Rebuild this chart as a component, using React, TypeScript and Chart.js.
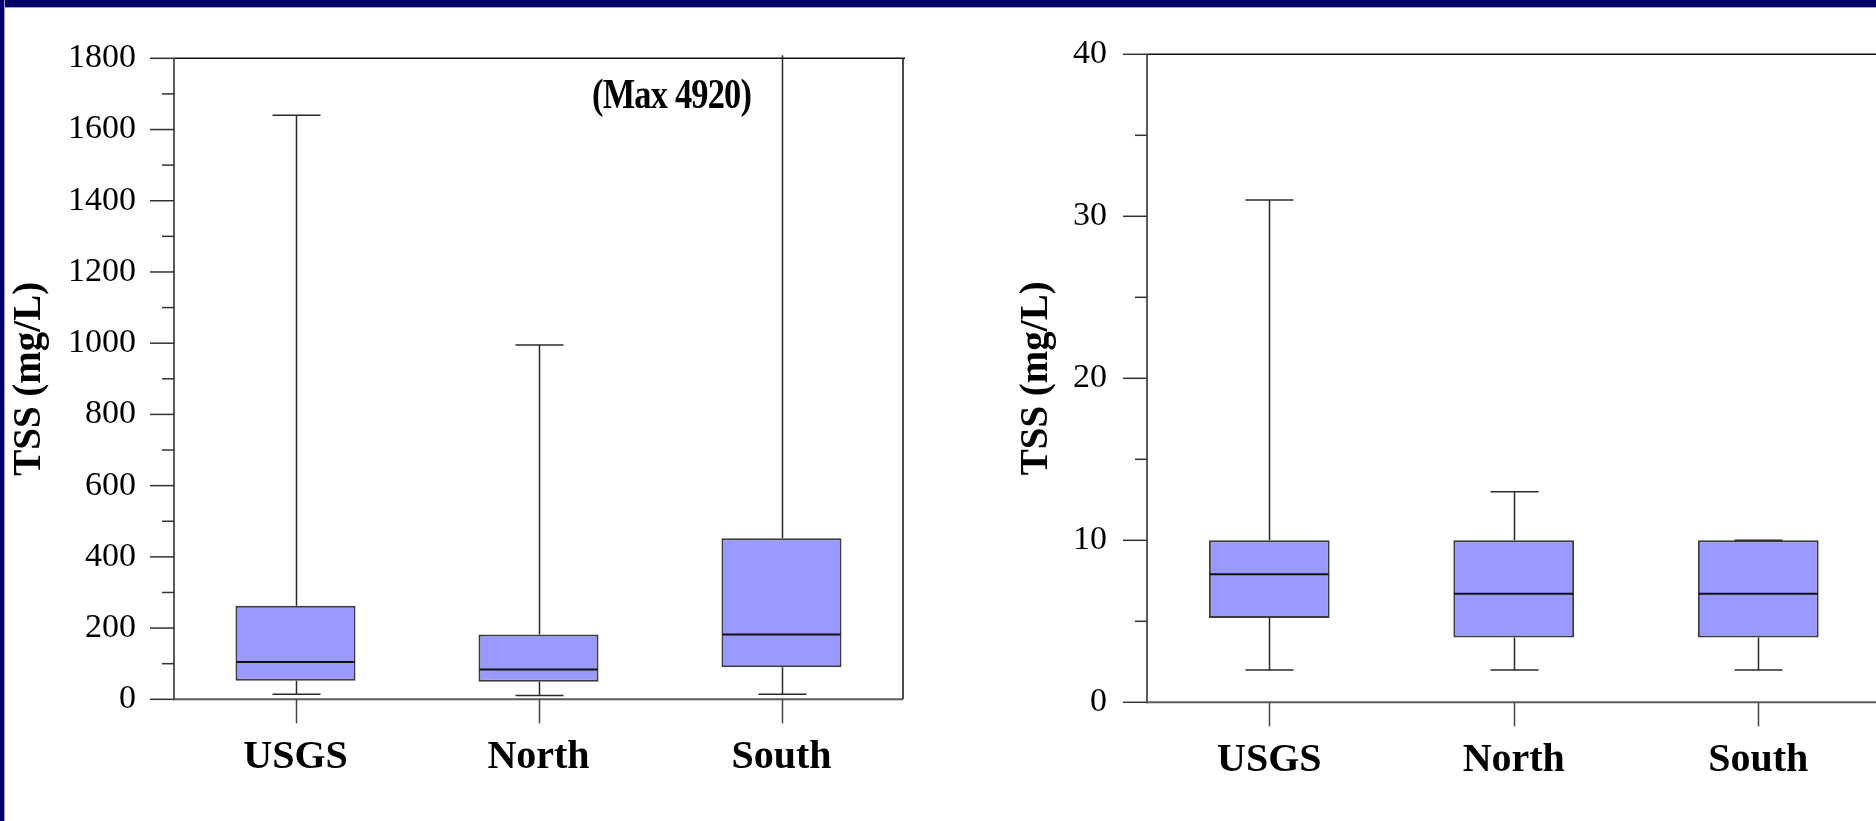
import React, { useEffect, useRef } from 'react';
import { Chart, registerables } from 'chart.js';

Chart.register(...registerables);

const categories = ['USGS', 'North', 'South'];

// Total suspended solids, full range (mg/L)
const fullMin = [14, 11, 14];
const fullQ1 = [52, 49, 90];
const fullMedian = [105, 84, 182];
const fullQ3 = [263, 182, 452];
const fullMax = [1640, 995, 4920];

// Total suspended solids, low range detail (mg/L)
const lowMin = [2, 2, 2];
const lowQ1 = [5.2, 4, 4];
const lowMedian = [7.9, 6.7, 6.7];
const lowQ3 = [10, 10, 10];
const lowMax = [31, 13, 10];

const fullTicks = { min: 0, max: 1800, minorStep: 100, majorStep: 200 };
const lowTicks = { min: 0, max: 40, minorStep: 5, majorStep: 10 };

const SERIF = "'Liberation Serif', 'Times New Roman', serif";

function line(ctx: CanvasRenderingContext2D, x1: number, y1: number, x2: number, y2: number) {
  ctx.beginPath();
  ctx.moveTo(x1, y1);
  ctx.lineTo(x2, y2);
  ctx.stroke();
}

// Whiskers, caps and median lines drawn on top of the floating q1..q3 bars.
const boxWhiskers = {
  id: 'boxWhiskers',
  afterDatasetsDraw(chart: any, _args: any, opts: any) {
    const { ctx, chartArea, scales } = chart;
    const { x, y } = scales;
    const meta = chart.getDatasetMeta(0);
    const s = opts.stats;
    ctx.save();
    ctx.beginPath();
    ctx.rect(chartArea.left, chartArea.top - 3, chartArea.right - chartArea.left, chartArea.bottom - chartArea.top + 3);
    ctx.clip();
    ctx.strokeStyle = '#2a2a2a';
    ctx.lineWidth = 1.5;
    const half = opts.capWidth / 2;
    s.min.forEach((_: number, i: number) => {
      const cx = Math.round(x.getPixelForValue(i)) + 0.5;
      const pMin = y.getPixelForValue(s.min[i]);
      const pQ1 = y.getPixelForValue(s.q1[i]);
      const pQ3 = y.getPixelForValue(s.q3[i]);
      const pMax = y.getPixelForValue(s.max[i]);
      line(ctx, cx, pQ3, cx, pMax);
      line(ctx, cx, pQ1, cx, pMin);
      line(ctx, cx - half, pMax, cx + half, pMax);
      line(ctx, cx - half, pMin, cx + half, pMin);
      const bar = meta.data[i];
      const bw = bar.width / 2;
      const pMed = y.getPixelForValue(s.median[i]);
      ctx.save();
      ctx.strokeStyle = '#111';
      ctx.lineWidth = 2;
      line(ctx, bar.x - bw + 1, pMed, bar.x + bw - 1, pMed);
      ctx.restore();
    });
    ctx.restore();
  },
};

// Axis lines, outside tick marks, plot frame and optional note.
const axisFrame = {
  id: 'axisFrame',
  afterDraw(chart: any, _args: any, opts: any) {
    const { ctx, chartArea, scales } = chart;
    const { left, top, right, bottom } = chartArea;
    const { x, y } = scales;
    ctx.save();
    ctx.strokeStyle = '#111';
    ctx.lineWidth = 1.5;
    line(ctx, left, top, right + 2, top);
    if (opts.rightBorder) line(ctx, right, top, right, bottom);

    ctx.strokeStyle = '#5a5a5a';
    ctx.lineWidth = 2;
    line(ctx, left, top, left, bottom + 1);
    line(ctx, left - 1, bottom, right, bottom);

    ctx.strokeStyle = '#333';
    ctx.lineWidth = 1.5;
    const steps = Math.round((opts.max - opts.min) / opts.minorStep);
    for (let k = 0; k <= steps; k++) {
      const v = opts.min + k * opts.minorStep;
      const py = y.getPixelForValue(v);
      const major = Math.abs(v / opts.majorStep - Math.round(v / opts.majorStep)) < 1e-9;
      line(ctx, left - (major ? 24 : 12), py, left, py);
    }
    ctx.strokeStyle = '#444';
    categories.forEach((_, i) => {
      const px = Math.round(x.getPixelForValue(i)) + 0.5;
      line(ctx, px, bottom, px, bottom + 24);
    });

    if (opts.note) {
      // condensed bold note
      ctx.fillStyle = '#000';
      ctx.font = `bold 43px ${SERIF}`;
      (ctx as any).letterSpacing = '-1px';
      ctx.textAlign = 'left';
      ctx.textBaseline = 'middle';
      ctx.translate(left + opts.noteDx, top + opts.noteDy);
      ctx.scale(0.8, 1);
      ctx.fillText(opts.note, 0, 0);
    }
    ctx.restore();
  },
};

function makeConfig(p: any): any {
  return {
    type: 'bar',
    data: {
      labels: categories,
      datasets: [
        {
          data: categories.map((_, i) => [p.q1[i], p.q3[i]]),
          backgroundColor: '#9999ff',
          borderColor: '#3c3c3c',
          borderWidth: 2,
          borderSkipped: false,
          barPercentage: 0.494,
          categoryPercentage: 1,
        },
      ],
    },
    options: {
      responsive: false,
      animation: false,
      layout: { padding: p.padding },
      plugins: {
        legend: { display: false },
        tooltip: { enabled: false },
        boxWhiskers: {
          stats: { min: p.min, q1: p.q1, median: p.median, q3: p.q3, max: p.max },
          capWidth: 48,
        },
        axisFrame: {
          ...p.ticks,
          rightBorder: p.rightBorder,
          note: p.note,
          noteDx: 418,
          noteDy: 39,
        },
      },
      scales: {
        x: {
          type: 'category',
          offset: true,
          grid: { display: false, drawTicks: false },
          border: { display: false },
          ticks: {
            color: '#000',
            font: { family: SERIF, size: 40, weight: 'bold', lineHeight: 1.2 },
            padding: 34,
            maxRotation: 0,
            autoSkip: false,
          },
          afterFit: (s: any) => {
            s.height = 100;
            s.paddingLeft = 0;
            s.paddingRight = 0;
          },
        },
        y: {
          type: 'linear',
          min: p.ticks.min,
          max: p.ticks.max,
          grid: { display: false, drawTicks: false },
          border: { display: false },
          ticks: {
            stepSize: p.ticks.minorStep,
            autoSkip: false,
            color: '#000',
            padding: p.tickPadding,
            font: { family: SERIF, size: 34, lineHeight: 1.2 },
            callback: (v: number) => (v % p.ticks.majorStep === 0 ? String(v) : ''),
          },
          title: {
            display: true,
            text: 'TSS (mg/L)',
            color: '#000',
            font: { family: SERIF, size: 39, weight: 'bold', lineHeight: 1.2 },
            padding: { top: p.titlePad, bottom: 0 },
          },
          afterFit: (s: any) => {
            s.width = p.axisWidth;
            s.paddingTop = 0;
            s.paddingBottom = 0;
          },
        },
      },
    },
    plugins: [boxWhiskers, axisFrame],
  };
}

export default function App() {
  const fullRef = useRef<HTMLCanvasElement>(null);
  const lowRef = useRef<HTMLCanvasElement>(null);

  useEffect(() => {
    const full = new Chart(
      fullRef.current as HTMLCanvasElement,
      makeConfig({
        min: fullMin,
        q1: fullQ1,
        median: fullMedian,
        q3: fullQ3,
        max: fullMax,
        ticks: fullTicks,
        padding: { top: 58.3, right: 35, bottom: 21.7, left: 0 },
        axisWidth: 174,
        tickPadding: 38,
        titlePad: 7,
        rightBorder: true,
        note: `(Max ${fullMax[2]})`,
      })
    );
    const low = new Chart(
      lowRef.current as HTMLCanvasElement,
      makeConfig({
        min: lowMin,
        q1: lowQ1,
        median: lowMedian,
        q3: lowQ3,
        max: lowMax,
        ticks: lowTicks,
        padding: { top: 54.3, right: 17.5, bottom: 18.7, left: 0 },
        axisWidth: 209,
        tickPadding: 40,
        titlePad: 76,
        rightBorder: true,
        note: null,
      })
    );
    return () => {
      full.destroy();
      low.destroy();
    };
  }, []);

  return (
    <div style={{ position: 'fixed', inset: 0, background: '#fff', overflow: 'hidden' }}>
      <canvas ref={fullRef} width={938} height={821} style={{ position: 'absolute', left: 0, top: 0 }} />
      <canvas ref={lowRef} width={960} height={821} style={{ position: 'absolute', left: 938, top: 0 }} />
      <div
        style={{
          position: 'absolute',
          left: 0,
          top: 0,
          right: 0,
          height: 7,
          background: '#000066',
          borderBottom: '1px solid #a0a0d8',
        }}
      />
      <div
        style={{
          position: 'absolute',
          left: 0,
          top: 0,
          bottom: 0,
          width: 4,
          background: '#000066',
          borderRight: '1px solid #a0a0d8',
        }}
      />
    </div>
  );
}
